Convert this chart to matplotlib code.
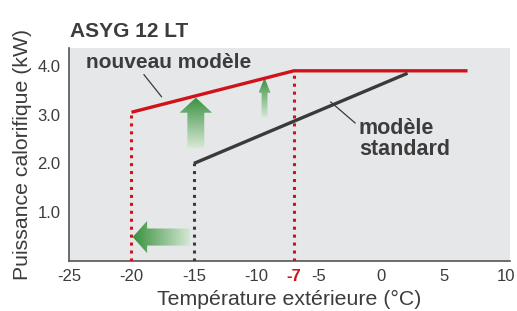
import numpy as np
import matplotlib.pyplot as plt
from matplotlib.patches import Polygon
from matplotlib.colors import LinearSegmentedColormap

plt.rcParams['font.family'] = ['Liberation Sans', 'DejaVu Sans']

# ---------------------------------------------------------------------------
# Data
# ---------------------------------------------------------------------------
new_x = [-20, -7, 6.9]
new_y = [3.05, 3.9, 3.9]
std_x = [-15, 2.1]
std_y = [2.0, 3.85]

x_ticks = [-25, -20, -15, -10, -7, -5, 0, 5, 10]
y_ticks = [1.0, 2.0, 3.0, 4.0]

RED = '#d0121b'
DARK = '#3a3a3a'
BG = '#e6e7e9'
TXT = '#3c3c3c'

green_cmap = LinearSegmentedColormap.from_list('g', ['#d6e9d6', '#3a913f'])


def gradient_arrow(ax, verts, direction):
    """Filled arrow polygon with a green gradient towards its tip."""
    poly = Polygon(verts, closed=True, facecolor='none', edgecolor='none')
    ax.add_patch(poly)
    xs = [v[0] for v in verts]
    ys = [v[1] for v in verts]
    if direction == 'up':
        grad = np.linspace(0, 1, 100).reshape(-1, 1)
    else:
        grad = np.linspace(1, 0, 100).reshape(1, -1)
    im = ax.imshow(grad, cmap=green_cmap, aspect='auto', origin='lower',
                   extent=(min(xs), max(xs), min(ys), max(ys)), zorder=2)
    im.set_clip_path(poly)


def up_arrow(xc, y0, y1, body_w, head_w, head_h):
    return [(xc - body_w / 2, y0), (xc + body_w / 2, y0),
            (xc + body_w / 2, y1 - head_h), (xc + head_w / 2, y1 - head_h),
            (xc, y1), (xc - head_w / 2, y1 - head_h),
            (xc - body_w / 2, y1 - head_h)]


def left_arrow(yc, x0, x1, body_h, head_h, head_w):
    # x0 = tip, x1 = tail
    return [(x1, yc - body_h / 2), (x1, yc + body_h / 2),
            (x0 + head_w, yc + body_h / 2), (x0 + head_w, yc + head_h / 2),
            (x0, yc), (x0 + head_w, yc - head_h / 2),
            (x0 + head_w, yc - body_h / 2)]


fig = plt.figure(figsize=(5.17, 3.11), dpi=100)
ax = fig.add_axes([0.1335, 0.161, 0.853, 0.685])
ax.set_facecolor(BG)

# dotted drop lines
ax.plot([-20, -20], [0, new_y[0]], color=RED, lw=2.2,
        linestyle=(0, (1, 1.6)), dash_capstyle='butt', zorder=3)
ax.plot([-7, -7], [0, new_y[1]], color=RED, lw=2.2,
        linestyle=(0, (1, 1.6)), dash_capstyle='butt', zorder=3)
ax.plot([-15, -15], [0, std_y[0]], color=DARK, lw=2.2,
        linestyle=(0, (1, 1.6)), dash_capstyle='butt', zorder=3)

# curves
ax.plot(new_x, new_y, color=RED, lw=2.4, solid_capstyle='butt', zorder=4)
ax.plot(std_x, std_y, color=DARK, lw=2.4, solid_capstyle='butt', zorder=4)

# green arrows
gradient_arrow(ax, up_arrow(-14.85, 2.32, 3.35, 1.35, 2.6, 0.31), 'up')
gradient_arrow(ax, up_arrow(-9.35, 2.94, 3.76, 0.47, 0.95, 0.31), 'up')
gradient_arrow(ax, left_arrow(0.49, -19.9, -15.3, 0.35, 0.66, 1.15), 'left')

# annotations
ax.text(-17.0, 4.07, 'nouveau modèle', ha='center', va='center',
        fontsize=15, fontweight='bold', color=TXT, zorder=5)
ax.plot([-19.0, -17.6], [3.82, 3.37], color=DARK, lw=0.9, zorder=5)
ax.text(-1.8, 2.5, 'modèle\nstandard', ha='left', va='center',
        fontsize=15.5, fontweight='bold', color=TXT, linespacing=1.0,
        zorder=5)
ax.plot([-4.05, -2.1], [3.26, 2.83], color=DARK, lw=0.9, zorder=5)

ax.set_xlim(-25, 10.3)
ax.set_ylim(0, 4.37)
ax.set_xticks(x_ticks)
ax.set_xticklabels([str(t) for t in x_ticks])
ax.set_yticks(y_ticks)
ax.set_yticklabels([f'{t:.1f}' for t in y_ticks])
ax.tick_params(length=0, labelsize=12, labelcolor=TXT, pad=6)
for lbl in ax.get_xticklabels():
    if lbl.get_text() == '-7':
        lbl.set_color(RED)
        lbl.set_fontweight('bold')

for side in ['top', 'right']:
    ax.spines[side].set_visible(False)
for side in ['left', 'bottom']:
    ax.spines[side].set_color('#555555')
    ax.spines[side].set_linewidth(1.2)

ax.set_xlabel('Température extérieure (°C)', fontsize=15.3, color=TXT,
              labelpad=4)
ax.set_ylabel('Puissance calorifique (kW)', fontsize=15.3, color=TXT,
              labelpad=4)
fig.text(0.135, 0.90, 'ASYG 12 LT', fontsize=15, fontweight='bold',
         color=TXT, ha='left', va='center')

fig.savefig('out.png', dpi=100)
